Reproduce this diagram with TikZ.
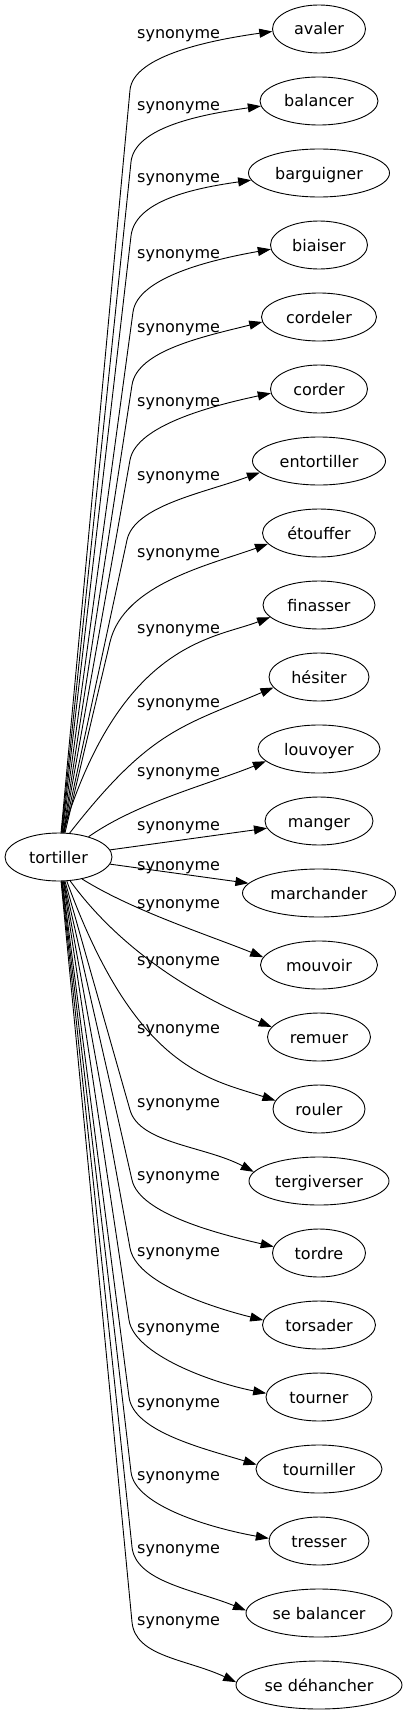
\documentclass[tikz,border=0pt]{standalone}
\usepackage{fontspec}
\setmainfont{DejaVu Sans}
\usetikzlibrary{arrows.meta,calc,shapes.geometric}
\begin{document}
\begin{tikzpicture}[x=1pt,y=1pt,
  word/.style={draw, ellipse, line width=0.9pt, inner sep=0pt, minimum height=48pt,
    text height=13pt, text depth=1pt, font=\fontsize{16pt}{19pt}\selectfont},
  lbl/.style={anchor=base west, inner sep=0pt, font=\fontsize{16pt}{19pt}\selectfont},
  edge/.style={line width=0.9pt, -{Triangle[length=13pt,width=9pt]}}]
\path[use as bounding box, fill=white] (0,0) rectangle (407,-1715);

% central node
\node[word, minimum width=107pt] (t) at (58.5,-857) {tortiller};

% synonyms
\node[word, minimum width=93pt]  (n0)  at (319,-29)   {avaler};
\node[word, minimum width=118pt] (n1)  at (319,-101)  {balancer};
\node[word, minimum width=141pt] (n2)  at (319,-173)  {barguigner};
\node[word, minimum width=97pt]  (n3)  at (319,-245)  {biaiser};
\node[word, minimum width=115pt] (n4)  at (319,-317)  {cordeler};
\node[word, minimum width=97pt]  (n5)  at (319,-389)  {corder};
\node[word, minimum width=133pt] (n6)  at (319,-461)  {entortiller};
\node[word, minimum width=113pt] (n7)  at (319,-533)  {étouffer};
\node[word, minimum width=112pt] (n8)  at (319,-605)  {finasser};
\node[word, minimum width=100pt] (n9)  at (319,-677)  {hésiter};
\node[word, minimum width=122pt] (n10) at (319,-749)  {louvoyer};
\node[word, minimum width=108pt] (n11) at (319,-821)  {manger};
\node[word, minimum width=153pt] (n12) at (319,-893)  {marchander};
\node[word, minimum width=117pt] (n13) at (319,-965)  {mouvoir};
\node[word, minimum width=103pt] (n14) at (319,-1037) {remuer};
\node[word, minimum width=92pt]  (n15) at (319,-1109) {rouler};
\node[word, minimum width=140pt] (n16) at (319,-1181) {tergiverser};
\node[word, minimum width=93pt]  (n17) at (319,-1253) {tordre};
\node[word, minimum width=113pt] (n18) at (319,-1325) {torsader};
\node[word, minimum width=106pt] (n19) at (319,-1397) {tourner};
\node[word, minimum width=126pt] (n20) at (319,-1469) {tourniller};
\node[word, minimum width=100pt] (n21) at (319,-1541) {tresser};
\node[word, minimum width=146pt] (n22) at (319,-1613) {se balancer};
\node[word, minimum width=166pt] (n23) at (319,-1685) {se déhancher};

% edge labels
\node[lbl] (l0)  at (137,-39)   {synonyme};
\node[lbl] (l1)  at (137,-111)  {synonyme};
\node[lbl] (l2)  at (137,-183)  {synonyme};
\node[lbl] (l3)  at (137,-258)  {synonyme};
\node[lbl] (l4)  at (137,-332)  {synonyme};
\node[lbl] (l5)  at (137,-406)  {synonyme};
\node[lbl] (l6)  at (137,-480)  {synonyme};
\node[lbl] (l7)  at (137,-557)  {synonyme};
\node[lbl] (l8)  at (137,-633)  {synonyme};
\node[lbl] (l9)  at (137,-707)  {synonyme};
\node[lbl] (l10) at (137,-776)  {synonyme};
\node[lbl] (l11) at (137,-830)  {synonyme};
\node[lbl] (l12) at (137,-870)  {synonyme};
\node[lbl] (l13) at (137,-908)  {synonyme};
\node[lbl] (l14) at (137,-965)  {synonyme};
\node[lbl] (l15) at (137,-1033) {synonyme};
\node[lbl] (l16) at (137,-1107) {synonyme};
\node[lbl] (l17) at (137,-1180) {synonyme};
\node[lbl] (l18) at (137,-1256) {synonyme};
\node[lbl] (l19) at (137,-1332) {synonyme};
\node[lbl] (l20) at (137,-1407) {synonyme};
\node[lbl] (l21) at (137,-1480) {synonyme};
\node[lbl] (l22) at (137,-1553) {synonyme};
\node[lbl] (l23) at (137,-1625) {synonyme};

% bend points
\coordinate (v0)  at (130,-90);
\coordinate (v1)  at (131,-162);
\coordinate (v2)  at (131,-236);
\coordinate (v3)  at (133,-312);
\coordinate (v4)  at (132,-385);
\coordinate (v5)  at (130,-460);
\coordinate (v6)  at (127,-540);
\coordinate (v7)  at (110,-642);
\coordinate (v16) at (130,-1110);
\coordinate (v17) at (132,-1180);
\coordinate (v18) at (130,-1248);
\coordinate (v19) at (129,-1320);
\coordinate (v20) at (129,-1397);
\coordinate (v21) at (131,-1472);
\coordinate (v22) at (132,-1547);
\coordinate (v23) at (132,-1622);

% upper far edges
\draw[edge] (t.84) -- (v0) .. controls ($(v0)!-35pt!(t.84)$) and +(188:60) .. (n0.183);
\draw[edge] (t.83) -- (v1) .. controls ($(v1)!-35pt!(t.83)$) and +(188:60) .. (n1.185);
\draw[edge] (t.82) -- (v2) .. controls ($(v2)!-35pt!(t.82)$) and +(188:60) .. (n2.186);
\draw[edge] (t.81) -- (v3) .. controls ($(v3)!-35pt!(t.81)$) and +(190:60) .. (n3.185);
\draw[edge] (t.79) -- (v4) .. controls ($(v4)!-35pt!(t.79)$) and +(194:60) .. (n4.185);
\draw[edge] (t.78) -- (v5) .. controls ($(v5)!-35pt!(t.78)$) and +(192:60) .. (n5.185);
\draw[edge] (t.77) -- (v6) .. controls ($(v6)!-35pt!(t.77)$) and +(200:60) .. (n6.191);
\draw[edge] (t.75) -- (v7) .. controls ($(v7)!-60pt!(t.75)$) and +(200:60) .. (n7.192);

% upper near edges
\draw[edge] (t.80) .. controls +(73:200) and +(201:60) .. (n8.194);
\draw[edge] (t.65) .. controls +(52:130) and +(203:100) .. (n9.193);
\draw[edge] (t.34) .. controls +(35:60) and +(202:60) .. (n10.193);

% straight edges
\draw[edge] (t) -- (n11);
\draw[edge] (t) -- (n12);

% lower near edges
\draw[edge] (t.-43) .. controls +(-32:60) and +(158:60) .. (n13.172);
\draw[edge] (t.-64) .. controls +(-54:100) and +(158:60) .. (n14.168);
\draw[edge] (t.-71) .. controls +(-70:200) and +(162:70) .. (n15.169);

% lower far edges
\draw[edge] (t.-75) -- (v16) .. controls ($(v16)!-35pt!(t.-75)$) and +(152:55) .. (n16.172);
\draw[edge] (t.-77) -- (v17) .. controls ($(v17)!-35pt!(t.-77)$) and +(167:55) .. (n17.172);
\draw[edge] (t.-78) -- (v18) .. controls ($(v18)!-35pt!(t.-78)$) and +(166:55) .. (n18.175);
\draw[edge] (t.-79) -- (v19) .. controls ($(v19)!-35pt!(t.-79)$) and +(169:55) .. (n19.176);
\draw[edge] (t.-81) -- (v20) .. controls ($(v20)!-35pt!(t.-81)$) and +(163:55) .. (n20.176);
\draw[edge] (t.-82) -- (v21) .. controls ($(v21)!-35pt!(t.-82)$) and +(170:55) .. (n21.177);
\draw[edge] (t.-83) -- (v22) .. controls ($(v22)!-35pt!(t.-83)$) and +(158:55) .. (n22.178);
\draw[edge] (t.-84) -- (v23) .. controls ($(v23)!-35pt!(t.-84)$) and +(155:55) .. (n23.178);
\end{tikzpicture}
\end{document}
